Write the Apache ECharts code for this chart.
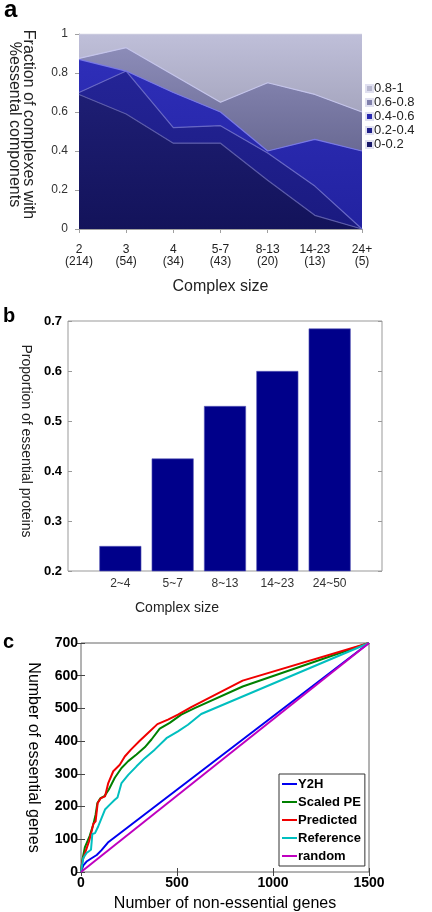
<!DOCTYPE html>
<html>
<head>
<meta charset="utf-8">
<script src="https://cdn.jsdelivr.net/npm/echarts@6/dist/echarts.min.js"></script>
<style>
html,body{margin:0;padding:0;background:#fff;}
#chart{width:432px;height:912px;}
</style>
</head>
<body>
<div id="chart"></div>
<script>
// ---------- Panel a data ----------
const aCategories = ['2\n(214)', '3\n(54)', '4\n(34)', '5-7\n(43)', '8-13\n(20)', '14-23\n(13)', '24+\n(5)'];
const aBand00_02 = [0.69, 0.59, 0.44, 0.44, 0.25, 0.07, 0.00];
const aBand02_04 = [0.01, 0.22, 0.08, 0.09, 0.14, 0.15, 0.00];
const aBand04_06 = [0.17, 0.00, 0.18, 0.07, 0.01, 0.24, 0.40];
const aBand06_08 = [0.005, 0.12, 0.09, 0.05, 0.35, 0.23, 0.20];
const aBand08_10 = [0.125, 0.07, 0.21, 0.35, 0.25, 0.31, 0.40];
const aLegend = ['0.8-1', '0.6-0.8', '0.4-0.6', '0.2-0.4', '0-0.2'];

// ---------- Panel b data ----------
const bCategories = ['2~4', '5~7', '8~13', '14~23', '24~50'];
const bValues = [0.25, 0.425, 0.53, 0.60, 0.685];

// ---------- Panel c data ([non-essential, essential]) ----------
const cY2H = [[0,0],[12,20],[29,32],[55,42],[82,52],[107,67],[140,90],[1500,700]];
const cScaledPE = [[0,0],[8,40],[20,75],[45,110],[64,145],[76,175],[85,210],[100,225],[122,232],[145,252],[176,288],[211,318],[246,339],[289,359],[332,381],[367,405],[410,438],[462,456],[522,481],[592,501],[842,567],[1500,700]];
const cPredicted = [[0,0],[7,33],[24,63],[42,94],[55,124],[64,147],[76,155],[87,211],[104,226],[125,231],[142,272],[168,308],[202,328],[228,353],[260,374],[306,401],[349,425],[398,452],[453,466],[505,481],[574,504],[842,585],[1500,700]];
const cReference = [[0,0],[12,43],[29,58],[52,68],[59,116],[73,119],[90,140],[107,165],[125,191],[150,206],[176,221],[190,228],[211,272],[246,297],[289,323],[332,348],[384,374],[445,409],[505,430],[557,450],[626,483],[1500,700]];
const cRandom = [[0,0],[1500,700]];
const cNames = ['Y2H', 'Scaled PE', 'Predicted', 'Reference', 'random'];

const FONT = 'Liberation Sans';
const chart = echarts.init(document.getElementById('chart'), null, {renderer: 'canvas'});

function grad(top, bottom) {
  return {type: 'linear', x: 0, y: 0, x2: 0, y2: 1,
    colorStops: [{offset: 0, color: top}, {offset: 1, color: bottom}]};
}

const aStyles = [
  {name: '0-0.2', data: aBand00_02, fill: grad('#1e1e74', '#13135a'), edge: '#5a5aa8', icon: '#18186a'},
  {name: '0.2-0.4', data: aBand02_04, fill: grad('#242496', '#1a1a80'), edge: '#6666c4', icon: '#20208a'},
  {name: '0.4-0.6', data: aBand04_06, fill: grad('#2e2eb8', '#2222a0'), edge: '#7878e4', icon: '#2a2ab0'},
  {name: '0.6-0.8', data: aBand06_08, fill: grad('#8c8cb8', '#6a6a94'), edge: '#c4c4ea', icon: '#8080ac'},
  {name: '0.8-1', data: aBand08_10, fill: grad('#bfbfd9', '#a6a6bf'), edge: '#d4d4e4', icon: '#b8b8d0'}
];

const aSeries = aStyles.map(s => ({
  name: s.name, type: 'line', stack: 'a', xAxisIndex: 0, yAxisIndex: 0,
  data: s.data, showSymbol: false, symbol: 'none',
  lineStyle: {color: s.edge, width: 1.2},
  itemStyle: {color: s.icon, borderColor: '#e0e0f0', borderWidth: 0.5},
  areaStyle: {color: s.fill, opacity: 1},
  emphasis: {disabled: true}, animation: false
}));

const cColors = ['#0000f0', '#008000', '#f00000', '#00bfbf', '#bf00bf'];
const cData = [cY2H, cScaledPE, cPredicted, cReference, cRandom];
const cSeries = cNames.map((n, i) => ({
  name: n, type: 'line', xAxisIndex: 2, yAxisIndex: 3, data: cData[i],
  showSymbol: false, symbol: 'none',
  lineStyle: {color: cColors[i], width: 2}, itemStyle: {color: cColors[i]},
  emphasis: {disabled: true}, animation: false
}));

const option = {
  animation: false,
  textStyle: {fontFamily: FONT},
  grid: [
    {left: 79, top: 34, width: 283, height: 195, show: true, backgroundColor: '#c4c4da', borderWidth: 0, containLabel: false, outerBoundsMode: 'none'},
    {left: 68, top: 321, width: 314, height: 250, show: true, borderColor: '#999', borderWidth: 1, containLabel: false, outerBoundsMode: 'none'},
    {left: 81, top: 643, width: 288, height: 229, show: true, borderColor: '#666', borderWidth: 1, containLabel: false, outerBoundsMode: 'none'}
  ],
  xAxis: [
    {gridIndex: 0, type: 'category', boundaryGap: false, data: aCategories,
     axisLine: {lineStyle: {color: '#a0a0a0'}},
     axisTick: {show: true, length: 4, lineStyle: {color: '#a0a0a0'}},
     axisLabel: {interval: 0, fontSize: 12, lineHeight: 12, color: '#222', margin: 15, fontFamily: FONT},
     name: 'Complex size', nameLocation: 'middle', nameGap: 50,
     nameTextStyle: {fontSize: 16, color: '#222', fontFamily: FONT}},
    {gridIndex: 1, type: 'value', min: 0, max: 6, interval: 1,
     axisLine: {show: false}, axisTick: {show: false}, splitLine: {show: false},
     axisLabel: {fontSize: 12, color: '#333', margin: 7, fontFamily: FONT,
       formatter: v => bCategories[v - 1] || ''}},
    {gridIndex: 2, type: 'value', min: 0, max: 1500, interval: 500,
     axisLine: {show: false}, splitLine: {show: false},
     axisTick: {show: true, inside: true, length: 4, lineStyle: {color: '#444'}},
     axisLabel: {fontSize: 14, fontWeight: 'bold', color: '#000', margin: 4, fontFamily: FONT,
       formatter: v => String(v)},
     name: 'Number of non-essential genes', nameLocation: 'middle', nameGap: 24,
     nameTextStyle: {fontSize: 16, color: '#000', fontFamily: FONT}},
    {gridIndex: 2, type: 'value', position: 'top', min: 0, max: 1500, interval: 500,
     axisLine: {show: false}, splitLine: {show: false}, axisLabel: {show: false},
     axisTick: {show: true, inside: true, length: 4, lineStyle: {color: '#444'}}}
  ],
  yAxis: [
    {gridIndex: 0, type: 'value', min: 0, max: 1, interval: 0.2,
     axisLine: {show: true, lineStyle: {color: '#a0a0a0'}},
     axisTick: {show: true, length: 4, lineStyle: {color: '#a0a0a0'}},
     splitLine: {show: false},
     axisLabel: {fontSize: 12, color: '#333', margin: 11, fontFamily: FONT,
       formatter: v => String(+v.toFixed(1))},
     name: 'Fraction of complexes with\n%essental components', nameLocation: 'middle',
     nameRotate: -90, nameGap: 44,
     nameTextStyle: {fontSize: 16, lineHeight: 14, color: '#222', fontFamily: FONT, padding: [0, 14, 0, 0]}},
    {gridIndex: 1, type: 'value', min: 0.2, max: 0.7, interval: 0.1,
     axisLine: {show: false}, splitLine: {show: false},
     axisTick: {show: true, inside: true, length: 4, lineStyle: {color: '#999'}},
     axisLabel: {fontSize: 13, fontWeight: 'bold', color: '#000', margin: 6, fontFamily: FONT,
       formatter: v => v.toFixed(1)},
     name: 'Proportion of essential proteins', nameLocation: 'middle',
     nameRotate: -90, nameGap: 28,
     nameTextStyle: {fontSize: 14, color: '#222', fontFamily: FONT, padding: [0, 10, 0, 0]}},
    {gridIndex: 1, type: 'value', position: 'right', min: 0.2, max: 0.7, interval: 0.1,
     axisLine: {show: false}, splitLine: {show: false}, axisLabel: {show: false},
     axisTick: {show: true, inside: true, length: 4, lineStyle: {color: '#999'}}},
    {gridIndex: 2, type: 'value', min: 0, max: 700, interval: 100,
     axisLine: {show: false}, splitLine: {show: false},
     axisTick: {show: true, inside: true, length: 4, lineStyle: {color: '#444'}},
     axisLabel: {fontSize: 14, fontWeight: 'bold', color: '#000', margin: 3, fontFamily: FONT},
     name: 'Number of essential genes', nameLocation: 'middle',
     nameRotate: -90, nameGap: 40,
     nameTextStyle: {fontSize: 16, color: '#000', fontFamily: FONT}},
    {gridIndex: 2, type: 'value', position: 'right', min: 0, max: 700, interval: 100,
     axisLine: {show: false}, splitLine: {show: false}, axisLabel: {show: false},
     axisTick: {show: true, inside: true, length: 4, lineStyle: {color: '#444'}}}
  ],
  legend: [
    {data: aLegend, orient: 'vertical', left: 365, top: 82, icon: 'rect',
     itemWidth: 7, itemHeight: 7, itemGap: 1, padding: 0,
     textStyle: {fontSize: 13, lineHeight: 13, color: '#222', fontFamily: FONT, padding: [0,0,0,-4]},
     selectedMode: false},
    {data: cNames, orient: 'vertical', left: 279, top: 774, icon: 'rect',
     itemWidth: 15, itemHeight: 2, itemGap: 4,
     padding: [3, 4, 3, 3], backgroundColor: '#fff', borderColor: '#333', borderWidth: 1,
     textStyle: {fontSize: 13, fontWeight: 'bold', lineHeight: 14, color: '#000', fontFamily: FONT, padding: [0,0,0,-4]},
     selectedMode: false}
  ],
  graphic: [
    {type: 'text', left: 4, top: -2, style: {text: 'a', font: 'bold 24px "Liberation Sans"', fill: '#000'}},
    {type: 'text', left: 3, top: 306, style: {text: 'b', font: 'bold 20px "Liberation Sans"', fill: '#000'}},
    {type: 'text', left: 3, top: 632, style: {text: 'c', font: 'bold 20px "Liberation Sans"', fill: '#000'}},
    {type: 'text', x: 177, y: 608, style: {text: 'Complex size', font: '14px "Liberation Sans"', fill: '#222', textAlign: 'center', textVerticalAlign: 'middle'}}
  ],
  series: [
    ...aSeries,
    {name: 'bars', type: 'bar', xAxisIndex: 1, yAxisIndex: 1,
     data: bValues.map((v, i) => [i + 1, v]), barWidth: 42,
     itemStyle: {color: '#00008a', borderColor: '#5a5ab8', borderWidth: 0.6},
     emphasis: {disabled: true}, animation: false},
    ...cSeries
  ]
};
chart.setOption(option);
</script>
</body>
</html>
